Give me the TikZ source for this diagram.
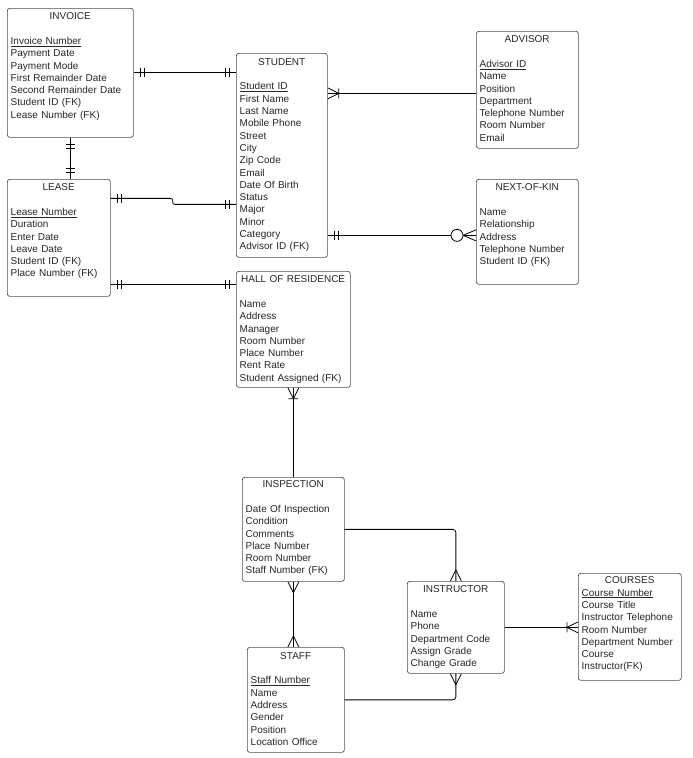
\documentclass[tikz,border=0pt]{standalone}
\usepackage{fontspec}
\setmainfont{Liberation Sans}
\usetikzlibrary{calc}
\tikzset{
  x=1pt, y=-1pt,
  box/.style={draw=black!70, line width=0.7pt, rounded corners=2.5pt, inner sep=0pt, anchor=north west},
  txt/.style={anchor=north west, inner sep=0pt, align=left, font=\fontsize{10}{12.3}\selectfont, text=black!85},
  conn/.style={draw=black, line width=0.8pt},
  one/.pic={\draw[conn] (7,-4.5) -- (7,4.5) (11,-4.5) -- (11,4.5);},
  many/.pic={\draw[conn] (0,-5.5) -- (11,0) -- (0,5.5);},
  onemany/.pic={\draw[conn] (0,-5.5) -- (11,0) -- (0,5.5) (11,-5) -- (11,5);},
  zeromany/.pic={\draw[conn] (0,-5.5) -- (13,0) -- (0,5.5); \draw[conn, fill=white] (19,0) circle[radius=6pt];},
}
\newcommand\entity[8]{%
  \node[box, minimum width=#4pt, minimum height=#5pt] (#1) at (#2,#3) {};
  \node[txt, text width=#6pt] at ([xshift=3.5pt,yshift=#7pt]#1.north west) {#8};
}
\newcommand\ttl[1]{\makebox[\linewidth]{\strut #1}}
\begin{document}
\begin{tikzpicture}
\useasboundingbox[fill=white] (0,0) rectangle (693,758);

\entity{invoice}{7}{8}{126}{129}{119}{-3}{\ttl{INVOICE}\\[12.3pt]
\underline{Invoice Number}\\ Payment Date\\ Payment Mode\\ First Remainder Date\\ Second Remainder Date\\ Student ID (FK)\\ Lease Number (FK)}

\entity{student}{236}{53}{91}{204}{84}{-3.5}{\ttl{STUDENT}\\[12.3pt]
\underline{Student ID}\\ First Name\\ Last Name\\ Mobile Phone\\ Street\\ City\\ Zip Code\\ Email\\ Date Of Birth\\ Status\\ Major\\ Minor\\ Category\\ Advisor ID (FK)}

\entity{lease}{7}{179}{103}{117}{96}{-3}{\ttl{LEASE}\\[12.3pt]
\underline{Lease Number}\\ Duration\\ Enter Date\\ Leave Date\\ Student ID (FK)\\ Place Number (FK)}

\entity{hall}{236}{271}{114}{116}{107}{-3}{\ttl{HALL OF RESIDENCE}\\[12.3pt]
Name\\ Address\\ Manager\\ Room Number\\ Place Number\\ Rent Rate\\ Student Assigned (FK)}

\entity{advisor}{476}{31}{102}{117}{95}{-3}{\ttl{ADVISOR}\\[12.3pt]
\underline{Advisor ID}\\ Name\\ Position\\ Department\\ Telephone Number\\ Room Number\\ Email}

\entity{nok}{476}{179}{102}{105}{95}{-3}{\ttl{NEXT-OF-KIN}\\[12.3pt]
Name\\ Relationship\\ Address\\ Telephone Number\\ Student ID (FK)}

\entity{inspection}{242}{477}{102}{104}{95}{-2}{\ttl{INSPECTION}\\[12.3pt]
Date Of Inspection\\ Condition\\ Comments\\ Place Number\\ Room Number\\ Staff Number (FK)}

\entity{instructor}{407}{581}{97}{92}{90}{-3}{\ttl{INSTRUCTOR}\\[12.3pt]
Name\\ Phone\\ Department Code\\ Assign Grade\\ Change Grade}

\entity{courses}{578}{573}{103}{107}{96}{-2}{\ttl{COURSES}\\
\underline{Course Number}\\ Course Title\\ Instructor Telephone\\ Room Number\\ Department Number\\ Course\\ Instructor(FK)}

\entity{staff}{247}{647}{97}{105}{90}{-3.5}{\ttl{STAFF}\\[12.3pt]
\underline{Staff Number}\\ Name\\ Address\\ Gender\\ Position\\ Location Office}

% connectors
\coordinate (a1) at (invoice.east);
\coordinate (a2) at (a1 -| student.west);
\draw[conn] (a1) -- (a2);
\pic at (a1) {one}; \pic[rotate=180] at (a2) {one};

\coordinate (b1) at (invoice.south);
\coordinate (b2) at (b1 |- lease.north);
\draw[conn] (b1) -- (b2);
\pic[rotate=-90] at (b1) {one}; \pic[rotate=90] at (b2) {one};

\coordinate (c1) at ([yshift=39.5pt]lease.east);
\coordinate (c2) at ([yshift=-49pt]student.west);
\draw[conn, rounded corners=2pt] (c1) -- ++(62,0) -- ++(0,6) -- (c2);
\pic at (c1) {one}; \pic[rotate=180] at (c2) {one};

\coordinate (d2) at ([yshift=45pt]hall.west);
\coordinate (d1) at (d2 -| lease.east);
\draw[conn] (d1) -- (d2);
\pic at (d1) {one}; \pic[rotate=180] at (d2) {one};

\coordinate (e2) at ([yshift=-3.5pt]advisor.west);
\coordinate (e1) at (e2 -| student.east);
\draw[conn] (e1) -- (e2);
\pic at (e1) {onemany};

\coordinate (f2) at ([yshift=-3.5pt]nok.west);
\coordinate (f1) at (f2 -| student.east);
\draw[conn] (f1) -- (f2);
\pic at (f1) {one}; \pic[rotate=180] at (f2) {zeromany};

\coordinate (g1) at (hall.south);
\coordinate (g2) at (g1 |- inspection.north);
\draw[conn] (g1) -- (g2);
\pic[rotate=-90] at (g1) {onemany};

\coordinate (h1) at (inspection.south);
\coordinate (h2) at (h1 |- staff.north);
\draw[conn] (h1) -- (h2);
\pic[rotate=-90] at (h1) {many}; \pic[rotate=90] at (h2) {many};

\draw[conn, rounded corners=3pt] (inspection.east) -| (instructor.north);
\pic[rotate=90] at (instructor.north) {many};

\draw[conn, rounded corners=3pt] (staff.east) -| (instructor.south);
\pic[rotate=-90] at (instructor.south) {many};

\coordinate (k1) at (instructor.east);
\coordinate (k2) at (k1 -| courses.west);
\draw[conn] (k1) -- (k2);
\pic[rotate=180] at (k2) {onemany};
\end{tikzpicture}
\end{document}
